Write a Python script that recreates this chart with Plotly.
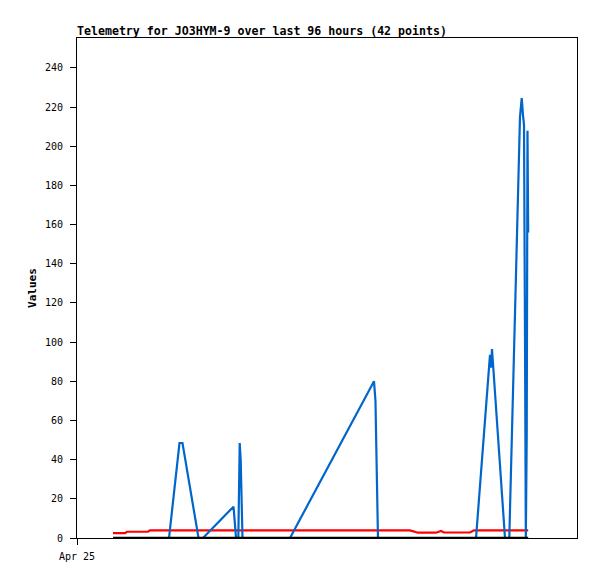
import plotly.graph_objects as go

# Blue telemetry channel
blue_times = [
    "2024-04-25 08:38", "2024-04-25 15:07", "2024-04-25 22:05",
    "2024-04-26 00:36", "2024-04-26 01:19", "2024-04-26 05:10",
    "2024-04-26 06:14", "2024-04-26 13:34", "2024-04-26 13:55",
    "2024-04-26 14:10", "2024-04-26 14:43", "2024-04-26 14:50",
    "2024-04-26 15:03", "2024-04-26 15:17", "2024-04-26 15:43",
    "2024-04-27 03:07", "2024-04-27 23:17", "2024-04-27 23:38",
    "2024-04-27 23:56", "2024-04-28 00:14", "2024-04-28 23:46",
    "2024-04-29 03:07", "2024-04-29 03:22", "2024-04-29 03:36",
    "2024-04-29 06:43", "2024-04-29 07:45", "2024-04-29 10:19",
    "2024-04-29 10:44", "2024-04-29 11:02", "2024-04-29 11:17",
    "2024-04-29 11:31", "2024-04-29 11:43", "2024-04-29 11:56",
    "2024-04-29 12:07", "2024-04-29 12:17",
]
blue_values = [
    0, 0, 0,
    48.5, 48.5, 0,
    0, 16, 4,
    0, 0, 24,
    48.5, 40, 0,
    0, 80, 70,
    32, 0, 0,
    93.5, 87, 96.5,
    0, 0, 215,
    224.6, 216, 211,
    104, 0, 52,
    208, 156,
]

# Red telemetry channel
red_times = [
    "2024-04-25 08:38", "2024-04-25 11:31", "2024-04-25 12:00",
    "2024-04-25 17:02", "2024-04-25 17:31", "2024-04-28 07:55",
    "2024-04-28 09:50", "2024-04-28 14:10", "2024-04-28 15:22",
    "2024-04-28 16:05", "2024-04-28 22:19", "2024-04-28 23:17",
    "2024-04-29 12:17",
]
red_values = [2.5, 2.5, 3.2, 3.2, 3.9, 3.9, 2.7, 2.7, 3.6, 2.8, 2.8, 3.9, 3.9]

# Black telemetry channel
black_times = ["2024-04-25 08:38", "2024-04-29 12:17"]
black_values = [0, 0]

y_ticks = [0, 20, 40, 60, 80, 100, 120, 140, 160, 180, 200, 220, 240]
x_tick_vals = ["2024-04-25 00:00"]
x_tick_text = ["Apr 25"]

title_text = "Telemetry for JO3HYM-9 over last 96 hours (42 points)"

fig = go.Figure()
fig.add_trace(go.Scatter(x=red_times, y=red_values, mode="lines",
                         line=dict(color="#ff0000", width=2.2), showlegend=False))
fig.add_trace(go.Scatter(x=blue_times, y=blue_values, mode="lines",
                         line=dict(color="#0066cc", width=2.2), showlegend=False))
fig.add_trace(go.Scatter(x=black_times, y=black_values, mode="lines",
                         line=dict(color="#000000", width=2.5), showlegend=False))

mono = "DejaVu Sans Mono"
W, H = 589, 571
fig.update_layout(
    width=W, height=H,
    margin=dict(l=69, r=20, t=30, b=41),
    paper_bgcolor="white", plot_bgcolor="white",
    font=dict(family=mono, size=10, color="black"),
    title=dict(text="<b>" + title_text + "</b>", x=69 / W, xanchor="left",
               xref="container", y=1 - 23 / H, yanchor="middle", yref="container",
               font=dict(family=mono, size=11.6, color="black")),
    xaxis=dict(type="date", range=["2024-04-25 00:00", "2024-04-30 00:00"],
               tickvals=x_tick_vals, ticktext=x_tick_text,
               showgrid=False, zeroline=False, showline=True, mirror=True,
               linecolor="black", linewidth=1, ticks="outside", ticklen=6,
               ticklabelstandoff=3,
               tickcolor="black", tickfont=dict(family=mono, size=10)),
    yaxis=dict(range=[0, 255.3], tickvals=y_ticks,
               showgrid=False, zeroline=False, showline=True, mirror=True,
               linecolor="black", linewidth=1, ticks="outside", ticklen=6,
               ticklabelstandoff=5,
               tickcolor="black", tickfont=dict(family=mono, size=10),
               title=dict(text="<b>Values</b>", font=dict(family=mono, size=11),
                          standoff=6)),
)

fig.write_html("out.html")
